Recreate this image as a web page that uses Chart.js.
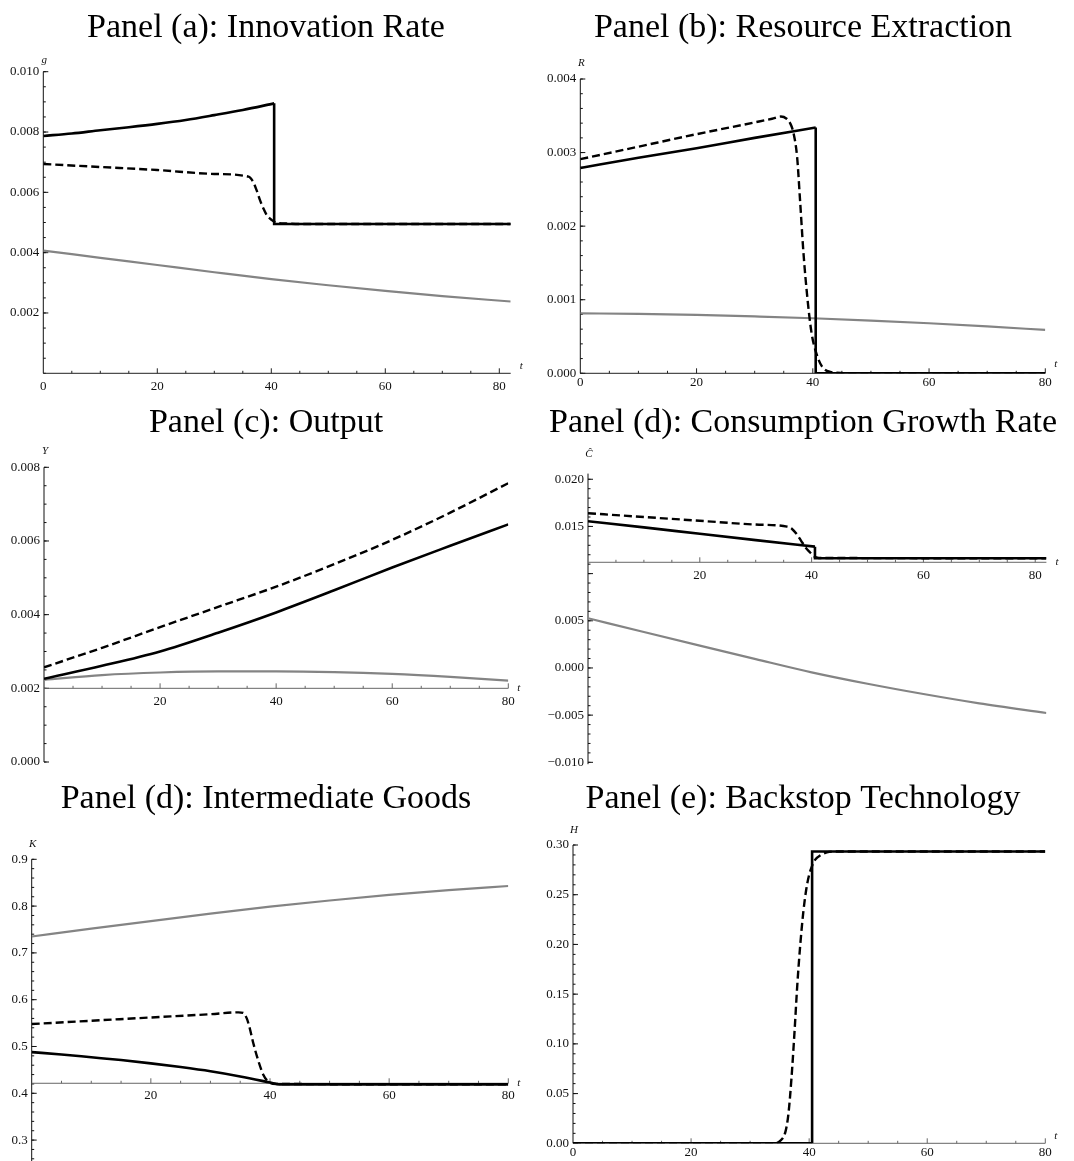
<!DOCTYPE html>
<html>
<head>
<meta charset="utf-8">
<script src="https://cdn.jsdelivr.net/npm/chart.js@4.4.1/dist/chart.umd.min.js"></script>
<style>
  body { margin: 0; background: #fff; width: 1074px; height: 1161px; position: relative; overflow: hidden; }
  canvas { position: absolute; }
</style>
</head>
<body>
<canvas id="panelA"></canvas>
<canvas id="panelB"></canvas>
<canvas id="panelC"></canvas>
<canvas id="panelD"></canvas>
<canvas id="panelK"></canvas>
<canvas id="panelE"></canvas>
<script>
//--- DATA ---//
// panel (a) innovation rate g
const aSolidT = [0, 5, 10, 15, 20, 25, 30, 35, 40.5, 40.5, 82];
const aSolidV = [0.00787, 0.00795, 0.00806, 0.00816, 0.00827, 0.00840, 0.00856, 0.00873, 0.00895, 0.00495, 0.00495];
const aDashT = [0, 10, 20, 30, 36, 36.8, 37.4, 38, 38.6, 39.2, 40.1, 40.9, 42.1, 45, 82];
const aDashV = [0.00694, 0.00684, 0.00674, 0.00661, 0.00652, 0.00635, 0.00608, 0.00575, 0.00547, 0.00525, 0.00508, 0.00499, 0.00497, 0.00495, 0.00495];
const aGrayT = [0, 10, 20, 30, 40, 50, 60, 70, 82];
const aGrayV = [0.00407, 0.00383, 0.00359, 0.00335, 0.00312, 0.00292, 0.00273, 0.00256, 0.00238];
const aYLabels = ['0.002', '0.004', '0.006', '0.008', '0.010'];
const aXLabels = ['0', '20', '40', '60', '80'];

// panel (b) resource extraction R
const bSolidT = [0, 10, 20, 30, 40.5, 40.5, 80];
const bSolidV = [0.00279, 0.00293, 0.00306, 0.00320, 0.00334, 0, 0];
const bDashT = [0, 10, 20, 30, 33, 34.5, 35.5, 36.1, 36.7, 37.3, 37.8, 38.4, 39.1, 39.8, 40.7, 41.6, 43, 45.3, 48, 80];
const bDashV = [0.00291, 0.00308, 0.00325, 0.00341, 0.00346, 0.00349, 0.00346, 0.00340, 0.00326, 0.00294, 0.00236, 0.00163, 0.00100, 0.00054, 0.00025, 0.00009, 0.00002, 0.000003, 0, 0];
const bGrayT = [0, 10, 20, 30, 40, 50, 60, 70, 80];
const bGrayV = [0.000815, 0.000808, 0.000795, 0.000773, 0.000748, 0.000716, 0.000680, 0.000637, 0.000590];
const bYLabels = ['0.000', '0.001', '0.002', '0.003', '0.004'];
const bXLabels = ['0', '20', '40', '60', '80'];

// panel (c) output Y
const cSolidT = [0, 10, 20, 30, 40, 50, 60, 70, 80];
const cSolidV = [0.00226, 0.00261, 0.00300, 0.00351, 0.00406, 0.00466, 0.00528, 0.00587, 0.00645];
const cDashT = [0, 10, 20, 30, 40, 50, 60, 70, 80];
const cDashV = [0.00257, 0.00310, 0.00366, 0.00421, 0.00476, 0.00537, 0.00603, 0.00677, 0.00757];
const cGrayT = [0, 10, 20, 30, 40, 50, 60, 70, 80];
const cGrayV = [0.00223, 0.00236, 0.00243, 0.00246, 0.00246, 0.00244, 0.00239, 0.00231, 0.00221];
const cYLabels = ['0.000', '0.002', '0.004', '0.006', '0.008'];
const cXLabels = ['20', '40', '60', '80'];

// panel (d) consumption growth rate C hat
const dSolidT = [0, 10, 20, 30, 40.6, 40.6, 82];
const dSolidV = [0.01555, 0.01490, 0.01422, 0.01355, 0.01286, 0.01163, 0.01163];
const dDashT = [0, 10, 20, 30, 35.6, 36.5, 37.4, 38.1, 38.9, 39.7, 40.4, 41.3, 82];
const dDashV = [0.01640, 0.01600, 0.01560, 0.01520, 0.01498, 0.01473, 0.01413, 0.01350, 0.01279, 0.01226, 0.01184, 0.01166, 0.01163];
const dGrayT = [0, 10, 20, 30, 40, 50, 60, 70, 82];
const dGrayV = [0.00527, 0.00381, 0.00237, 0.00094, -0.00046, -0.00167, -0.00276, -0.00375, -0.00477];
const dYLabels = ['\u22120.010', '\u22120.005', '0.000', '0.005', '0.015', '0.020'];
const dXLabels = ['20', '40', '60', '80'];

// panel (d) intermediate goods K
const kSolidT = [0, 5, 10, 15, 20, 25, 30, 35, 40, 41.5, 80];
const kSolidV = [0.488, 0.483, 0.477, 0.471, 0.464, 0.456, 0.447, 0.436, 0.423, 0.419, 0.419];
const kDashT = [0, 10, 20, 30, 34.7, 35.5, 36.1, 36.6, 37.2, 38.0, 38.9, 39.7, 41.1, 80];
const kDashV = [0.548, 0.555, 0.562, 0.569, 0.573, 0.572, 0.560, 0.539, 0.507, 0.471, 0.439, 0.425, 0.420, 0.419];
const kGrayT = [0, 10, 20, 30, 40, 50, 60, 70, 80];
const kGrayV = [0.735, 0.752, 0.768, 0.784, 0.799, 0.812, 0.824, 0.834, 0.843];
const kYLabels = ['0.3', '0.4', '0.5', '0.6', '0.7', '0.8', '0.9'];
const kXLabels = ['20', '40', '60', '80'];

// panel (e) backstop technology H
const eSolidT = [0, 40.5, 40.5, 80];
const eSolidV = [0, 0, 0.2935, 0.2935];
const eDashT = [0, 34, 35, 36, 36.5, 37, 37.5, 38, 38.5, 39, 39.5, 40, 40.5, 41, 42, 43, 45, 80];
const eDashV = [0, 0, 0.002, 0.012, 0.030, 0.065, 0.110, 0.160, 0.200, 0.232, 0.255, 0.270, 0.279, 0.285, 0.290, 0.2925, 0.2935, 0.2935];
const eYLabels = ['0.00', '0.05', '0.10', '0.15', '0.20', '0.25', '0.30'];
const eXLabels = ['0', '20', '40', '60', '80'];

const SERIF = '"Liberation Serif", "DejaVu Serif", serif';

function pts(ts, vs) {
    return ts.map((t, i) => ({ x: t, y: vs[i] }));
}
function num(label) {
    return parseFloat(label.replace('\u2212', '-'));
}

//--- mathematica style axes ---//
const mmaAxes = {
    id: 'mmaAxes',
    beforeDatasetsDraw(chart, args, o) {
        const ctx = chart.ctx;
        const ca = chart.chartArea;
        const xs = chart.scales.x;
        const ys = chart.scales.y;
        const ox = xs.getPixelForValue(0);
        const oy = ys.getPixelForValue(o.xCross);
        const line = (x1, y1, x2, y2) => {
            ctx.beginPath();
            ctx.moveTo(x1, y1);
            ctx.lineTo(x2, y2);
            ctx.stroke();
        };
        ctx.save();
        ctx.lineWidth = 1;

        // y axis
        ctx.strokeStyle = '#111';
        for (let i = Math.ceil(ys.min / o.yMinor - 1e-6); i * o.yMinor <= ys.max + 1e-9; i++) {
            const py = ys.getPixelForValue(i * o.yMinor);
            line(ox, py, ox + 2.5, py);
        }
        o.yLabels.concat(o.yTickOnly || []).forEach(lab => {
            const py = ys.getPixelForValue(typeof lab === 'number' ? lab : num(lab));
            line(ox, py, ox + 5, py);
        });
        line(ox, ca.top, ox, ca.bottom);

        // x axis
        ctx.strokeStyle = o.xColor;
        for (let v = 5; v <= xs.max + 1e-9; v += 5) {
            const px = xs.getPixelForValue(v);
            const len = v % 20 === 0 ? 5 : 2.5;
            line(px, oy, px, oy - len);
        }
        line(ca.left, oy, ca.right, oy);

        // tick labels
        ctx.fillStyle = '#111';
        ctx.font = '13px ' + SERIF;
        ctx.textAlign = 'right';
        ctx.textBaseline = 'middle';
        o.yLabels.forEach(lab => {
            ctx.fillText(lab, ox - 4, ys.getPixelForValue(num(lab)));
        });
        ctx.textAlign = 'center';
        o.xLabels.forEach(lab => {
            ctx.fillText(lab, xs.getPixelForValue(num(lab)), oy + o.xLabelDy);
        });

        // axis names
        ctx.font = 'italic 11px ' + SERIF;
        ctx.fillText(o.yName, ox + 1, ca.top - o.yNameDy);
        ctx.textAlign = 'left';
        ctx.fillText('t', ca.right + 9, oy + o.tDy);
        ctx.restore();
    },
    afterDraw(chart, args, o) {
        const ctx = chart.ctx;
        ctx.save();
        ctx.fillStyle = '#000';
        ctx.font = '34px ' + SERIF;
        ctx.textAlign = 'center';
        ctx.textBaseline = 'alphabetic';
        ctx.fillText(o.title, 266, o.titleBase);
        ctx.restore();
    }
};

// smooth curve up to a vertical jump, straight segments from the jump on
function addLine(datasets, points, style) {
    const j = points.findIndex((p, i) => i > 0 && p.x === points[i - 1].x);
    if (j < 0) {
        datasets.push(Object.assign({ data: points, cubicInterpolationMode: 'monotone' }, style));
    } else {
        datasets.push(Object.assign({ data: points.slice(0, j), cubicInterpolationMode: 'monotone' }, style));
        datasets.push(Object.assign({ data: points.slice(j - 1) }, style));
    }
}

function makePanel(id, box, area, scale, series, axes) {
    const canvas = document.getElementById(id);
    canvas.width = box.w;
    canvas.height = box.h;
    canvas.style.left = box.left + 'px';
    canvas.style.top = box.top + 'px';

    const datasets = [];
    if (series.gray) {
        addLine(datasets, series.gray, { borderColor: '#848484', borderWidth: 2.2, order: 2 });
    }
    addLine(datasets, series.dash, { borderColor: '#000', borderWidth: 2.4, borderDash: [8, 4], order: 1 });
    addLine(datasets, series.solid, { borderColor: '#000', borderWidth: 2.6, order: 0 });

    return new Chart(canvas.getContext('2d'), {
        type: 'line',
        data: { datasets: datasets },
        options: {
            responsive: false,
            animation: false,
            devicePixelRatio: 1,
            layout: {
                padding: {
                    left: area.L - box.left,
                    top: area.T - box.top,
                    right: box.left + box.w - area.R,
                    bottom: box.top + box.h - area.B
                }
            },
            elements: {
                point: { radius: 0 },
                line: { tension: 0, fill: false, borderCapStyle: 'butt', borderJoinStyle: 'miter' }
            },
            scales: {
                x: { type: 'linear', min: 0, max: scale.xMax, display: false },
                y: { type: 'linear', min: scale.yMin, max: scale.yMax, display: false }
            },
            plugins: {
                legend: { display: false },
                tooltip: { enabled: false },
                mmaAxes: axes
            }
        },
        plugins: [mmaAxes]
    });
}

makePanel('panelA',
    { left: 0, top: 0, w: 537, h: 397 },
    { L: 43.3, R: 510.7, T: 71.7, B: 373.3 },
    { xMax: 82, yMin: 0, yMax: 0.010 },
    { solid: pts(aSolidT, aSolidV), dash: pts(aDashT, aDashV), gray: pts(aGrayT, aGrayV) },
    { title: 'Panel (a): Innovation Rate', titleBase: 37, xCross: 0, yMinor: 0.0005,
      yLabels: aYLabels, xLabels: aXLabels, xLabelDy: 13, xColor: '#222', yName: 'g', yNameDy: 12, tDy: -7 });

makePanel('panelB',
    { left: 537, top: 0, w: 537, h: 397 },
    { L: 580.3, R: 1045.3, T: 79, B: 373.3 },
    { xMax: 80, yMin: 0, yMax: 0.004 },
    { solid: pts(bSolidT, bSolidV), dash: pts(bDashT, bDashV), gray: pts(bGrayT, bGrayV) },
    { title: 'Panel (b): Resource Extraction', titleBase: 37, xCross: 0, yMinor: 0.0002,
      yLabels: bYLabels, xLabels: bXLabels, xLabelDy: 9, xColor: '#222', yName: 'R', yNameDy: 16, tDy: -9 });

makePanel('panelC',
    { left: 0, top: 397, w: 537, h: 378 },
    { L: 44, R: 508.3, T: 467.3, B: 762 },
    { xMax: 80, yMin: 0, yMax: 0.008 },
    { solid: pts(cSolidT, cSolidV), dash: pts(cDashT, cDashV), gray: pts(cGrayT, cGrayV) },
    { title: 'Panel (c): Output', titleBase: 34.7, xCross: 0.002, yMinor: 0.0005,
      yLabels: cYLabels, xLabels: cXLabels, xLabelDy: 13, xColor: '#666', yName: 'Y', yNameDy: 16, tDy: 0 });

makePanel('panelD',
    { left: 537, top: 397, w: 537, h: 378 },
    { L: 588, R: 1046.4, T: 473.6, B: 764.2 },
    { xMax: 82, yMin: -0.0102, yMax: 0.0206 },
    { solid: pts(dSolidT, dSolidV), dash: pts(dDashT, dDashV), gray: pts(dGrayT, dGrayV) },
    { title: 'Panel (d): Consumption Growth Rate', titleBase: 34.7, xCross: 0.0112, yMinor: 0.001,
      yLabels: dYLabels, yTickOnly: [0.010], xLabels: dXLabels, xLabelDy: 13, xColor: '#666', yName: '\u0108', yNameDy: 19, tDy: 0 });

makePanel('panelK',
    { left: 0, top: 775, w: 537, h: 386 },
    { L: 31.7, R: 508.3, T: 859.3, B: 1161 },
    { xMax: 80, yMin: 0.2553, yMax: 0.9 },
    { solid: pts(kSolidT, kSolidV), dash: pts(kDashT, kDashV), gray: pts(kGrayT, kGrayV) },
    { title: 'Panel (d): Intermediate Goods', titleBase: 33.3, xCross: 0.4214, yMinor: 0.02,
      yLabels: kYLabels, xLabels: kXLabels, xLabelDy: 12.5, xColor: '#666', yName: 'K', yNameDy: 15, tDy: 0 });

makePanel('panelE',
    { left: 537, top: 775, w: 537, h: 386 },
    { L: 573, R: 1045.3, T: 845, B: 1143.3 },
    { xMax: 80, yMin: 0, yMax: 0.30 },
    { solid: pts(eSolidT, eSolidV), dash: pts(eDashT, eDashV) },
    { title: 'Panel (e): Backstop Technology', titleBase: 33.3, xCross: 0, yMinor: 0.01,
      yLabels: eYLabels, xLabels: eXLabels, xLabelDy: 9, xColor: '#666', yName: 'H', yNameDy: 15, tDy: -7 });
</script>
</body>
</html>
